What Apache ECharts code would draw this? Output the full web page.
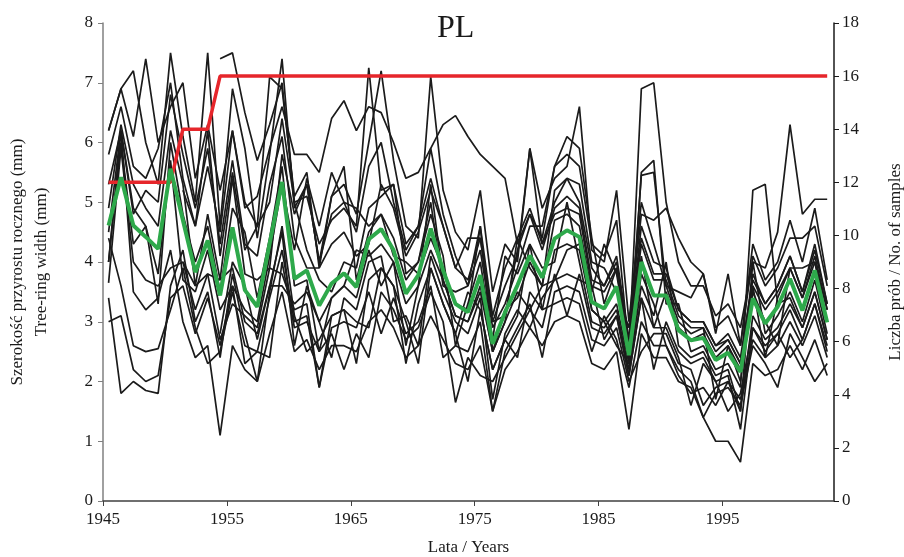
<!DOCTYPE html>
<html>
<head>
<meta charset="utf-8">
<title>PL</title>
<script src="https://cdn.jsdelivr.net/npm/echarts@6.0.0/dist/echarts.min.js"></script>
<style>
  html, body { margin: 0; padding: 0; background: #fff; }
  #main { width: 904px; height: 557px; }
</style>
</head>
<body>
<div id="main"></div>
<script>
// lata / years 1945-2003
const firstYear = 1945
const lastYear = 2003

// szerokość przyrostu poszczególnych prób (mm), od roku startowego
const s01 = [6.2, 6.9, 7.2, 6.0, 5.3, 7.5, 6.1, 5.0, 7.5, 4.6,
  6.9, 5.9, 4.4, 5.8, 7.4, 4.9, 5.3, 4.0, 4.8, 5.0,
  4.5, 5.6, 6.0, 5.0, 4.2, 4.6, 5.9, 4.8, 4.1, 3.6,
  4.6, 3.1, 3.9, 4.4, 4.9, 4.3, 5.0, 5.4, 5.0, 3.9,
  3.6, 4.1, 2.7, 4.6, 4.0, 3.9, 3.2, 3.0, 3.0, 2.6,
  2.7, 2.3, 3.8, 3.3, 3.6, 4.1, 3.5, 4.2, 3.3]
const s02 = [6.2, 6.9, 6.1, 7.4, 6.0, 6.6, 7.0, 5.4, 6.3, 5.2,
  6.2, 5.0, 4.6, 7.1, 6.9, 5.1, 5.5, 3.9, 5.1, 5.3,
  4.8, 6.0, 7.2, 5.7, 4.6, 4.4, 7.1, 5.2, 4.5, 4.2,
  5.2, 3.5, 4.3, 4.0, 5.9, 4.9, 5.4, 5.6, 6.6, 4.2,
  4.0, 5.2, 3.0, 5.0, 4.3, 3.6, 3.5, 3.4, 3.8, 2.9,
  3.1, 2.6, 4.3, 3.7, 4.0, 4.7, 4.0, 4.9, 3.7]
const s03 = [5.8, 6.6, 5.6, 5.4, 5.9, 7.0, 5.4, 4.6, 6.2, 4.1,
  5.5, 4.2, 4.6, 5.0, 6.4, 5.0, 4.2, 3.7, 3.5, 4.0,
  3.9, 4.9, 5.1, 5.3, 3.8, 4.0, 5.0, 3.6, 3.5, 3.6,
  4.2, 2.9, 3.3, 3.9, 4.6, 4.6, 5.6, 6.1, 5.9, 4.4,
  3.3, 3.9, 2.4, 4.1, 2.9, 3.5, 2.9, 2.7, 2.8, 2.4,
  2.6, 2.0, 3.5, 3.0, 2.6, 3.9, 3.9, 4.0, 3.0]
const s04 = [5.3, 6.2, 4.8, 5.2, 5.0, 6.8, 5.8, 4.9, 5.9, 4.3,
  5.7, 4.3, 4.1, 5.3, 6.1, 4.4, 3.9, 3.9, 4.3, 4.5,
  4.1, 4.3, 5.3, 4.9, 4.1, 4.5, 5.2, 4.6, 3.9, 4.4,
  4.4, 3.0, 3.1, 4.2, 4.8, 4.4, 5.6, 5.8, 5.6, 4.3,
  4.1, 4.7, 2.5, 6.9, 7.0, 5.0, 4.0, 3.6, 3.6, 3.1,
  3.3, 2.9, 4.0, 3.9, 4.5, 6.3, 4.8, 5.05, 5.05]
const s05 = [4.9, 6.3, 5.3, 4.9, 4.6, 6.2, 5.3, 3.6, 4.8, 3.7,
  5.4, 3.8, 3.7, 3.9, 5.8, 4.8, 5.3, 4.0, 5.1, 5.6,
  3.7, 4.5, 4.8, 4.1, 4.0, 3.8, 4.4, 3.9, 3.3, 3.2,
  4.6, 2.5, 3.2, 3.4, 4.0, 3.6, 3.7, 4.2, 4.3, 3.2,
  3.0, 3.3, 2.3, 5.5, 5.7, 3.3, 3.3, 2.5, 2.6, 2.2,
  2.3, 1.9, 5.2, 5.3, 3.3, 3.4, 2.9, 3.5, 2.7]
const s06 = [4.5, 6.2, 4.9, 4.6, 3.3, 6.0, 4.8, 4.0, 4.6, 3.5,
  4.9, 4.5, 3.4, 4.4, 5.6, 3.6, 3.7, 2.5, 3.4, 3.6,
  3.4, 4.2, 3.6, 4.0, 3.3, 3.6, 5.3, 3.7, 3.1, 3.0,
  3.5, 2.5, 3.0, 3.5, 3.2, 3.6, 4.7, 4.8, 4.6, 3.5,
  4.3, 3.8, 2.6, 5.45, 5.5, 3.6, 3.0, 2.8, 2.9, 1.7,
  2.6, 2.2, 3.6, 2.4, 3.4, 3.9, 3.4, 4.0, 3.2]
const s07 = [4.0, 6.0, 4.3, 4.6, 3.8, 5.7, 3.7, 3.5, 4.2, 3.2,
  3.6, 3.2, 3.0, 4.1, 5.3, 4.2, 5.4, 4.6, 5.5, 5.0,
  4.9, 4.6, 4.8, 4.4, 3.7, 4.0, 4.8, 4.1, 2.6, 3.3,
  4.0, 2.7, 4.1, 3.8, 4.3, 3.9, 4.0, 5.0, 4.0, 3.0,
  2.9, 3.2, 2.2, 3.6, 3.1, 4.0, 2.6, 2.4, 2.5, 2.1,
  2.2, 1.5, 3.1, 2.7, 2.9, 3.3, 2.9, 3.5, 2.7]
const s08 = [3.65, 5.9, 4.0, 3.7, 3.6, 3.9, 4.0, 3.2, 3.8, 3.7,
  3.9, 3.0, 2.8, 3.6, 3.6, 3.3, 3.5, 3.0, 2.4, 3.4,
  3.2, 4.0, 4.1, 3.0, 3.1, 2.6, 4.1, 3.5, 3.0, 2.8,
  3.4, 1.7, 2.8, 3.2, 2.9, 3.4, 3.7, 3.8, 3.7, 3.6,
  2.7, 3.1, 2.1, 3.4, 2.9, 2.9, 2.4, 1.6, 2.3, 2.0,
  1.5, 1.8, 2.9, 2.5, 2.8, 2.4, 2.7, 3.3, 2.5]
const s09 = [3.4, 1.8, 2.0, 1.85, 1.8, 3.6, 4.2, 3.0, 3.5, 2.4,
  3.8, 2.8, 2.0, 3.5, 4.6, 3.1, 2.5, 2.7, 3.1, 3.2,
  3.0, 2.9, 3.9, 3.6, 2.3, 3.3, 3.9, 3.3, 2.8, 2.0,
  3.2, 2.2, 2.7, 2.4, 3.5, 3.2, 4.2, 4.3, 4.2, 3.2,
  3.0, 2.6, 2.3, 3.8, 3.3, 2.6, 2.1, 1.8, 1.9, 1.6,
  2.0, 1.5, 4.0, 2.8, 3.1, 3.5, 3.0, 3.7, 2.8]
const s10 = [3.0, 3.1, 2.2, 2.0, 2.1, 3.4, 3.6, 2.8, 3.4, 2.6,
  3.6, 2.3, 2.5, 3.4, 4.2, 3.0, 3.1, 1.9, 2.9, 3.0,
  2.9, 3.5, 2.8, 3.4, 2.8, 3.0, 3.6, 2.4, 2.6, 2.5,
  3.0, 1.5, 2.5, 2.9, 3.3, 2.4, 3.5, 3.6, 3.5, 2.7,
  2.6, 2.9, 2.0, 2.5, 2.8, 2.8, 2.3, 2.2, 1.6, 1.9,
  2.0, 1.7, 2.7, 2.4, 2.6, 3.0, 2.6, 3.1, 2.4]
const s11 = [4.4, 3.6, 2.6, 2.5, 2.55, 3.2, 3.9, 2.9, 2.3, 2.5,
  3.5, 2.6, 2.5, 2.4, 4.0, 2.9, 3.0, 2.5, 2.8, 2.2,
  2.8, 2.4, 3.5, 3.2, 2.7, 2.9, 3.5, 3.0, 1.65, 2.4,
  2.1, 2.0, 2.4, 2.8, 3.2, 2.9, 3.8, 3.1, 3.8, 2.9,
  2.8, 3.1, 2.1, 3.4, 2.2, 3.0, 2.5, 2.3, 2.4, 2.0,
  2.1, 1.2, 2.9, 2.6, 2.8, 3.2, 2.7, 3.3, 2.6]
const s12 = [4.0, 6.2, 3.5, 3.2, 3.4, 4.2, 3.0, 2.4, 2.6, 1.1,
  2.6, 2.2, 2.0, 2.8, 3.5, 2.5, 2.7, 2.2, 2.6, 2.6,
  2.5, 3.0, 3.2, 2.9, 2.4, 2.6, 3.1, 2.7, 2.3, 2.2,
  2.6, 1.5, 2.2, 2.5, 2.9, 2.6, 3.0, 3.1, 3.0, 2.3,
  2.2, 2.5, 1.2, 2.8, 2.4, 2.4, 2.0, 1.9, 1.4, 1.0,
  1.0, 0.65, 2.3, 2.1, 2.2, 2.6, 2.2, 2.7, 2.1]
// próby od 1951
const s13 = [5.2, 4.6, 5.6, 4.5, 6.2, 4.9, 5.1, 5.9, 6.6, 5.8,
  5.8, 5.5, 6.4, 6.7, 6.2, 6.6, 6.5, 6.0, 5.4, 5.5,
  5.9, 6.3, 6.45, 6.1, 5.8, 5.6, 5.4, 4.3, 4.8, 4.2,
  4.9, 5.1, 4.9, 3.7, 3.6, 4.0, 2.7, 4.4, 3.8, 3.8,
  3.2, 3.0, 3.0, 2.6, 2.8, 2.4, 3.7, 3.3, 3.6, 4.1,
  3.5, 4.3, 3.3]
const s14 = [4.0, 3.6, 3.8, 2.7, 3.3, 3.1, 2.9, 3.9, 3.8, 3.2,
  3.3, 1.9, 3.1, 3.2, 2.3, 3.7, 3.9, 3.6, 3.0, 2.3,
  3.9, 3.3, 2.8, 3.5, 3.2, 2.2, 2.7, 3.1, 4.3, 3.2,
  3.3, 3.4, 3.3, 2.5, 3.1, 2.7, 1.9, 3.0, 2.6, 2.6,
  2.2, 2.0, 1.4, 1.8, 1.9, 1.6, 2.6, 2.3, 1.9, 2.8,
  2.4, 2.0, 2.3]
// próby od 1954
const s15 = [7.4, 7.5, 6.5, 5.7, 6.3, 7.0, 5.0, 5.1, 4.3, 4.7,
  4.9, 4.6, 7.25, 5.2, 5.3, 4.3, 4.6, 5.4, 4.6, 3.9,
  3.7, 4.4, 3.0, 3.6, 4.1, 5.9, 4.3, 4.8, 4.9, 4.8,
  3.6, 3.5, 3.9, 2.6, 4.3, 3.7, 3.7, 3.1, 2.9, 2.9,
  2.5, 2.7, 2.3, 3.6, 3.2, 3.5, 3.9, 3.4, 4.1, 3.2]
const s16 = [2.8, 4.0, 3.6, 2.7, 3.6, 4.5, 2.6, 3.6, 3.0, 3.4,
  3.6, 4.2, 4.1, 4.3, 4.0, 2.6, 3.6, 4.2, 3.7, 3.1,
  3.0, 3.6, 2.5, 3.0, 4.4, 3.9, 3.6, 5.2, 5.4, 5.3,
  4.0, 3.9, 3.5, 2.9, 4.8, 4.7, 4.9, 4.4, 4.0, 3.8,
  2.8, 3.8, 2.6, 4.1, 3.6, 3.9, 4.4, 4.4, 4.6, 3.6]

const samples = [s01, s02, s03, s04, s05, s06, s07, s08, s09, s10, s11, s12, s13, s14, s15, s16]
const sampleStart = [1945, 1945, 1945, 1945, 1945, 1945, 1945, 1945, 1945, 1945, 1945, 1945, 1951, 1951, 1954, 1954]

// średnia szerokość przyrostu (zielona linia)
const meanWidth = [4.61, 5.42, 4.61, 4.42, 4.22, 5.56, 4.70, 3.83, 4.36, 3.44,
  4.58, 3.53, 3.25, 4.31, 5.34, 3.72, 3.86, 3.27, 3.64, 3.81,
  3.58, 4.38, 4.55, 4.20, 3.47, 3.78, 4.56, 3.86, 3.30, 3.16,
  3.78, 2.63, 3.16, 3.61, 4.11, 3.74, 4.39, 4.53, 4.42, 3.33,
  3.22, 3.59, 2.44, 4.00, 3.44, 3.44, 2.86, 2.69, 2.73, 2.36,
  2.48, 2.16, 3.39, 2.97, 3.25, 3.72, 3.19, 3.86, 2.99]

// liczba prób (czerwona linia)
const sampleCount = [12, 12, 12, 12, 12, 12, 14, 14, 14, 16,
  16, 16, 16, 16, 16, 16, 16, 16, 16, 16,
  16, 16, 16, 16, 16, 16, 16, 16, 16, 16,
  16, 16, 16, 16, 16, 16, 16, 16, 16, 16,
  16, 16, 16, 16, 16, 16, 16, 16, 16, 16,
  16, 16, 16, 16, 16, 16, 16, 16, 16]

// punkty rysowane w połowie roku
const midYear = 0.45
const serif = 'Liberation Serif'

function toPoints(start, values) {
  return values.map((v, i) => [start + i + midYear, v])
}

const series = samples.map((vals, k) => ({
  type: 'line',
  data: toPoints(sampleStart[k], vals),
  showSymbol: false,
  silent: true,
  lineStyle: { color: '#1b1b1b', width: 1.7 }
}))
series.push({
  type: 'line',
  yAxisIndex: 1,
  data: toPoints(firstYear, sampleCount),
  showSymbol: false,
  silent: true,
  lineStyle: { color: '#e6262b', width: 3.5 }
})
series.push({
  type: 'line',
  data: toPoints(firstYear, meanWidth),
  showSymbol: false,
  silent: true,
  lineStyle: { color: '#2ea94b', width: 4 }
})

const myChart = echarts.init(document.getElementById('main'))
const option = {
  animation: false,
  title: {
    text: 'PL',
    left: 432,
    top: 8,
    textStyle: { fontFamily: serif, fontSize: 32, fontWeight: 'normal', color: '#1a1a1a' }
  },
  grid: { left: 103, right: 70, top: 23, bottom: 56, outerBoundsMode: 'none', containLabel: false },
  xAxis: {
    type: 'value',
    min: firstYear,
    max: lastYear + 1,
    interval: 10,
    name: 'Lata / Years',
    nameLocation: 'middle',
    nameGap: 38,
    nameTextStyle: { fontFamily: serif, fontSize: 17, color: '#1a1a1a' },
    axisLine: { lineStyle: { color: '#404040', width: 1.5 } },
    axisTick: { length: 5, lineStyle: { color: '#404040' } },
    axisLabel: {
      fontFamily: serif, fontSize: 17, color: '#1a1a1a', margin: 10, showMaxLabel: false,
      formatter: v => String(v)
    },
    splitLine: { show: false }
  },
  yAxis: [
    {
      type: 'value',
      min: 0,
      max: 8,
      interval: 1,
      position: 'left',
      name: 'Szerokość przyrostu rocznego (mm)\nTree-ring width (mm)',
      nameLocation: 'middle',
      nameRotate: 90,
      nameGap: 49,
      nameTextStyle: { fontFamily: serif, fontSize: 17, color: '#1a1a1a', lineHeight: 24 },
      axisLine: { show: true, lineStyle: { color: '#808080', width: 1.5 } },
      axisTick: { show: true, length: 5, lineStyle: { color: '#808080' } },
      axisLabel: { fontFamily: serif, fontSize: 17, color: '#1a1a1a', margin: 10 },
      splitLine: { show: false }
    },
    {
      type: 'value',
      min: 0,
      max: 18,
      interval: 2,
      position: 'right',
      name: 'Liczba prób / No. of samples',
      nameLocation: 'middle',
      nameRotate: 90,
      nameGap: 53,
      nameTextStyle: { fontFamily: serif, fontSize: 17, color: '#1a1a1a' },
      axisLine: { show: true, lineStyle: { color: '#1a1a1a', width: 1.5 } },
      axisTick: { show: true, length: 5, lineStyle: { color: '#1a1a1a' } },
      axisLabel: { fontFamily: serif, fontSize: 17, color: '#1a1a1a', margin: 8 },
      splitLine: { show: false }
    }
  ],
  series: series
}
myChart.setOption(option)
window.addEventListener('resize', () => {
  myChart.resize()
})
</script>
</body>
</html>
